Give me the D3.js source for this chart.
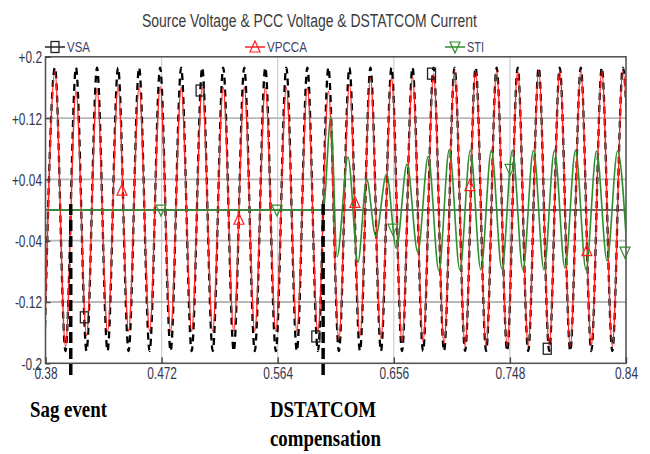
<!DOCTYPE html>
<html><head><meta charset="utf-8">
<script src="https://cdn.jsdelivr.net/npm/d3@7"></script>
<style>body{margin:0;background:#fff}</style>
</head><body><svg id="c" width="650" height="454"></svg>
<script>
// ---- data ----
const chartTitle = "Source Voltage & PCC Voltage & DSTATCOM Current";
const seriesNames = ["VSA", "VPCCA", "STI"];
const xTicks = [0.38, 0.472, 0.564, 0.656, 0.748, 0.84];
const xTickLabels = ["0.38", "0.472", "0.564", "0.656", "0.748", "0.84"];
const yTicks = [0.2, 0.12, 0.04, -0.04, -0.12, -0.2];
const yTickLabels = ["+0.2", "+0.12", "+0.04", "-0.04", "-0.12", "-0.2"];

// times of the voltage peaks / troughs (s)
const vTimes = [0.379167,0.3875,0.395833,0.404167,0.4125,0.420833,0.429167,0.4375,0.445833,0.454167,
  0.4625,0.470833,0.479167,0.4875,0.495833,0.504167,0.5125,0.520833,0.529167,0.5375,
  0.545833,0.554167,0.5625,0.570833,0.579167,0.5875,0.595833,0.604167,0.6125,0.620833,
  0.629167,0.6375,0.645833,0.654167,0.6625,0.670833,0.679167,0.6875,0.695833,0.704167,
  0.7125,0.720833,0.729167,0.7375,0.745833,0.754167,0.7625,0.770833,0.779167,0.7875,
  0.795833,0.804167,0.8125,0.820833,0.829167,0.8375,0.845833];
// source voltage VSA at those instants
const vsaValues = [-0.184,0.186,-0.184,0.186,-0.184,0.186,-0.184,0.186,-0.184,0.186,
  -0.184,0.186,-0.184,0.186,-0.184,0.186,-0.184,0.186,-0.184,0.186,
  -0.184,0.186,-0.184,0.186,-0.184,0.186,-0.184,0.186,-0.184,0.186,
  -0.184,0.186,-0.184,0.186,-0.184,0.186,-0.184,0.186,-0.184,0.186,
  -0.184,0.186,-0.184,0.186,-0.184,0.186,-0.184,0.186,-0.184,0.186,
  -0.184,0.186,-0.184,0.186,-0.184,0.186,-0.184];
// PCC voltage VPCCA at those instants
const vpccaValues = [-0.180,0.181,-0.178,0.155,-0.164,0.158,-0.159,0.161,-0.158,0.161,
  -0.158,0.161,-0.158,0.160,-0.158,0.160,-0.158,0.160,-0.158,0.160,
  -0.158,0.160,-0.158,0.160,-0.158,0.160,-0.160,0.155,-0.168,0.164,
  -0.165,0.173,-0.168,0.173,-0.172,0.174,-0.172,0.178,-0.175,0.182,
  -0.178,0.182,-0.178,0.182,-0.178,0.182,-0.178,0.182,-0.178,0.182,
  -0.178,0.182,-0.178,0.182,-0.178,0.182,-0.178];
// DSTATCOM current STI
const stiTimes = [0.38,0.6,0.6062,0.6110,0.6197,0.6276,0.6345,0.6417,0.6503,0.6580,
  0.6665,0.6750,0.6833,0.6917,0.7000,0.708333,0.716667,0.725,0.733333,0.741667,
  0.75,0.758333,0.766667,0.775,0.783333,0.791667,0.8,0.808333,0.816667,0.825,
  0.833333,0.841667];
const stiValues = [0,0,0.122,-0.061,0.069,-0.068,0.040,-0.034,0.047,-0.050,
  0.060,-0.055,0.070,-0.079,0.079,-0.078,0.078,-0.078,0.078,-0.077,
  0.078,-0.078,0.078,-0.078,0.078,-0.076,0.078,-0.078,0.077,-0.066,
  0.077,-0.078];

// series markers
const vsaMarkT = [0.4108,0.5025,0.5942,0.6859,0.7776];
const vsaMarkV = [-0.140,0.156,-0.165,0.178,-0.181];
const vpMarkT = [0.4406,0.5333,0.6252,0.7163,0.8090];
const vpMarkV = [0.026,-0.012,0.010,0.032,-0.053];
const stiMarkT = [0.4715,0.5634,0.6553,0.7481,0.8392];
const stiMarkV = [0.0,0.0,-0.025,0.053,-0.055];

// events
const eventTimes = [0.4, 0.6];
const eventLabels = [["Sag event"], ["DSTATCOM", "compensation"]];

// ---- drawing ----
const svg = d3.select("#c");
svg.append("rect").attr("width",650).attr("height",454).attr("fill","#fff");

const L = 45.5, R = 626, T = 56.8, B = 363.3;
const x = d3.scaleLinear().domain([0.38,0.84]).range([L,R]);
const y = d3.scaleLinear().domain([-0.2,0.2]).range([B,T]);

const labelColor = "#34344e";

// title
svg.append("text").attr("x",142).attr("y",26.5)
  .attr("font-family","Liberation Sans, Arial, sans-serif").attr("font-size",18)
  .attr("fill","#3a3a3a").attr("textLength",335).attr("lengthAdjust","spacingAndGlyphs")
  .text(chartTitle);

// grid
const grid = svg.append("g");
grid.selectAll("line.v").data(xTicks.slice(1,-1)).enter().append("line")
  .attr("x1",d=>x(d)).attr("x2",d=>x(d)).attr("y1",T).attr("y2",B)
  .attr("stroke","#cfcfcf").attr("stroke-width",1.2);
grid.selectAll("line.h").data(yTicks.slice(1,-1)).enter().append("line")
  .attr("x1",L).attr("x2",R).attr("y1",d=>y(d)).attr("y2",d=>y(d))
  .attr("stroke","#b8b8b8").attr("stroke-width",1.8);

// zero line
svg.append("line").attr("x1",L).attr("x2",R).attr("y1",y(0)).attr("y2",y(0))
  .attr("stroke","#3c3c3c").attr("stroke-width",1.6);

// clip
svg.append("clipPath").attr("id","clip").append("rect")
  .attr("x",L).attr("y",T).attr("width",R-L).attr("height",B-T);
const plot = svg.append("g").attr("clip-path","url(#clip)");

const line = d3.line().x(d=>x(d.t)).y(d=>y(d.v)).curve(d3.curveMonotoneX);
const vsa = vTimes.map((t,i)=>({t, v:vsaValues[i]}));
const vpcca = vTimes.map((t,i)=>({t, v:vpccaValues[i]}));
const sti = stiTimes.map((t,i)=>({t, v:stiValues[i]}));

plot.append("path").datum(vsa).attr("d",line).attr("fill","none")
  .attr("stroke","#000").attr("stroke-width",2.3).attr("stroke-dasharray","7,5");
plot.append("path").datum(vpcca).attr("d",line).attr("fill","none")
  .attr("stroke","#ff2020").attr("stroke-width",1.4);
plot.append("path").datum(sti).attr("d",line).attr("fill","none")
  .attr("stroke","#2f8f2f").attr("stroke-width",1.6);

// marker shapes
function square(g, cx, cy){
  g.append("rect").attr("x",cx-4).attr("y",cy-5.5).attr("width",8).attr("height",11)
   .attr("fill","none").attr("stroke","#222").attr("stroke-width",1.3);
}
function triUp(g, cx, cy, col){
  g.append("path").attr("d",`M${cx},${cy-6}L${cx+5},${cy+5}L${cx-5},${cy+5}Z`)
   .attr("fill","none").attr("stroke",col).attr("stroke-width",1.2);
}
function triDown(g, cx, cy, col){
  g.append("path").attr("d",`M${cx-5},${cy-5}L${cx+5},${cy-5}L${cx},${cy+6}Z`)
   .attr("fill","none").attr("stroke",col).attr("stroke-width",1.2);
}
const mk = svg.append("g");
vsaMarkT.forEach((t,i)=>square(mk, x(t), y(vsaMarkV[i])));
vpMarkT.forEach((t,i)=>triUp(mk, x(t), y(vpMarkV[i]), "#ff2020"));
stiMarkT.forEach((t,i)=>triDown(mk, x(t), y(stiMarkV[i]), "#2f8f2f"));

// frame
svg.append("rect").attr("x",L).attr("y",T).attr("width",R-L).attr("height",B-T)
  .attr("fill","none").attr("stroke","#555").attr("stroke-width",1.6);

// axes (inward ticks + labels)
const xAxis = svg.append("g").attr("transform",`translate(0,${B})`)
  .call(d3.axisBottom(x).tickValues(xTicks).tickFormat((d,i)=>xTickLabels[i])
        .tickSizeInner(-6).tickSizeOuter(0).tickPadding(5));
xAxis.select(".domain").remove();
xAxis.selectAll(".tick line").attr("stroke","#444").attr("stroke-width",1.4);
xAxis.selectAll(".tick text").attr("font-family","Liberation Sans, Arial, sans-serif")
  .attr("font-size",17).attr("fill",labelColor).attr("y",4).attr("dy","0.71em")
  .attr("transform","scale(0.7,1)");

const yAxis = svg.append("g").attr("transform",`translate(${L},0)`)
  .call(d3.axisLeft(y).tickValues(yTicks).tickFormat((d,i)=>yTickLabels[i])
        .tickSizeInner(-5).tickSizeOuter(0).tickPadding(3));
yAxis.select(".domain").remove();
yAxis.selectAll(".tick line").attr("stroke","#444").attr("stroke-width",1.4);
yAxis.selectAll(".tick text").attr("font-family","Liberation Sans, Arial, sans-serif")
  .attr("font-size",17).attr("fill",labelColor).attr("x",-5).attr("dy","0.35em")
  .attr("transform","scale(0.7,1)");

// legend
const legX = [45, 245, 445];
const legColors = ["#222", "#ff2020", "#2f8f2f"];
const legTextLen = [23, 40, 17];
const legY = 47;
const lg = svg.append("g");
seriesNames.forEach((name,i)=>{
  lg.append("line").attr("x1",legX[i]).attr("x2",legX[i]+20).attr("y1",legY).attr("y2",legY)
    .attr("stroke",legColors[i]).attr("stroke-width",1.5);
  if(i===0) square(lg, legX[i]+10, legY);
  if(i===1) triUp(lg, legX[i]+10, legY, legColors[i]);
  if(i===2) triDown(lg, legX[i]+10, legY, legColors[i]);
  lg.append("text").attr("x",legX[i]+22).attr("y",legY+5)
    .attr("font-family","Liberation Sans, Arial, sans-serif").attr("font-size",15)
    .attr("fill","#3e3e66").attr("textLength",legTextLen[i]).attr("lengthAdjust","spacingAndGlyphs")
    .text(name);
});

// event markers
const ev = svg.append("g");
eventTimes.forEach(t=>{
  ev.append("line").attr("x1",x(t)).attr("x2",x(t)).attr("y1",y(0)-6).attr("y2",B+15)
    .attr("stroke","#000").attr("stroke-width",3.5).attr("stroke-dasharray","11,5");
});
const evTextX = [30, 270];
eventLabels.forEach((lines,i)=>{
  lines.forEach((s,j)=>{
    svg.append("text").attr("transform",`translate(${evTextX[i]},${417+j*29}) scale(0.82,1)`)
      .attr("font-family","Liberation Serif, Times New Roman, serif").attr("font-weight","bold")
      .attr("font-size",23).attr("fill","#000").text(s);
  });
});
</script></body></html>
